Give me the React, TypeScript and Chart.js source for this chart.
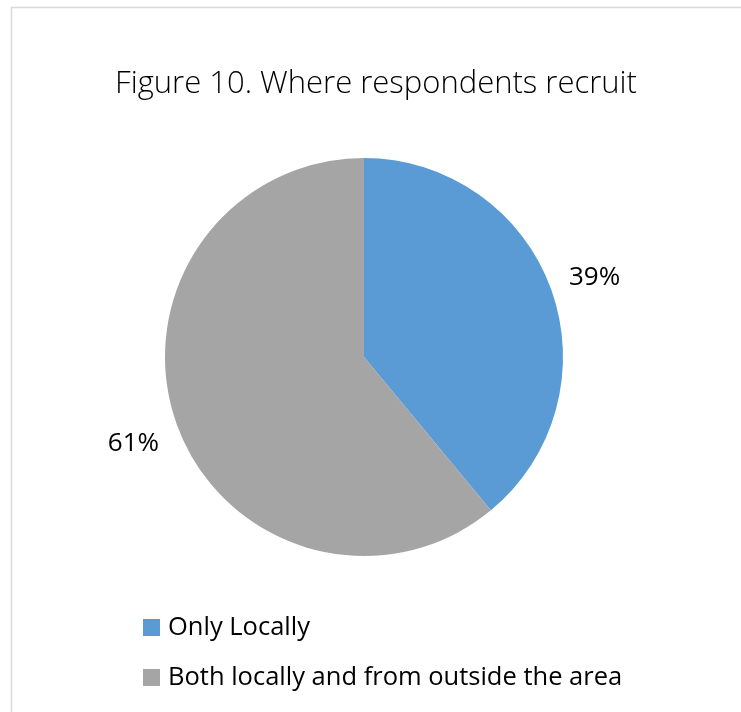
import React, { useEffect, useRef } from "react";
import { Chart, registerables } from "chart.js";

Chart.register(...registerables);

const titleText = "Figure 10. Where respondents recruit";
const categories = ["Only Locally", "Both locally and from outside the area"];
const values = [39, 61];
const percentLabels = ["39%", "61%"];
const colors = ["#5B9BD5", "#A5A5A5"];

const FONT = "'Open Sans', 'Noto Sans', sans-serif";

const decorPlugin = {
  id: "decor",
  beforeDraw(chart: any) {
    const ctx = chart.ctx;
    ctx.save();
    ctx.fillStyle = "#ffffff";
    ctx.fillRect(0, 0, chart.width, chart.height);
    ctx.strokeStyle = "#D9D9D9";
    ctx.lineWidth = 1.5;
    ctx.beginPath();
    ctx.moveTo(11.5, chart.height + 5);
    ctx.lineTo(11.5, 7.5);
    ctx.lineTo(chart.width + 5, 7.5);
    ctx.stroke();
    ctx.restore();
  },
  afterDraw(chart: any) {
    const ctx = chart.ctx;
    ctx.save();
    // title
    ctx.fillStyle = "#000000";
    ctx.font = `300 31px ${FONT}`;
    ctx.textAlign = "center";
    ctx.textBaseline = "alphabetic";
    ctx.fillText(titleText, 376, 93);

    // percent labels
    const meta = chart.getDatasetMeta(0);
    ctx.font = `400 26px ${FONT}`;
    ctx.textBaseline = "middle";
    meta.data.forEach((arc: any, i: number) => {
      const { x, y, startAngle, endAngle, outerRadius } = arc.getProps(
        ["x", "y", "startAngle", "endAngle", "outerRadius"],
        true
      );
      const mid = (startAngle + endAngle) / 2;
      const r = outerRadius + 46;
      const lx = x + Math.cos(mid) * r;
      const ly = y + Math.sin(mid) * r + 4;
      ctx.fillText(percentLabels[i], lx, ly);
    });

    // legend
    ctx.textAlign = "left";
    ctx.font = `400 25.5px ${FONT}`;
    categories.forEach((c, i) => {
      const cy = 627 + i * 50;
      ctx.fillStyle = colors[i];
      ctx.fillRect(143, cy - 8, 17, 17);
      ctx.fillStyle = "#000000";
      ctx.fillText(c, 168, cy + 1);
    });
    ctx.restore();
  },
};

export default function App() {
  const ref = useRef<HTMLCanvasElement | null>(null);
  useEffect(() => {
    if (!ref.current) return;
    const chart = new Chart(ref.current, {
      type: "pie",
      data: {
        labels: categories,
        datasets: [
          {
            data: values,
            backgroundColor: colors,
            borderWidth: 0,
          },
        ],
      },
      options: {
        responsive: false,
        animation: false,
        layout: { padding: { top: 158, bottom: 156, left: 0, right: 13 } },
        plugins: {
          legend: { display: false },
          title: { display: false },
          tooltip: { enabled: false },
        },
      },
      plugins: [decorPlugin],
    });
    return () => chart.destroy();
  }, []);
  return (
    <div style={{ position: "absolute", left: 0, top: 0, width: 741, height: 712, background: "#fff" }}>
      <canvas ref={ref} width={741} height={712} style={{ display: "block" }} />
    </div>
  );
}
